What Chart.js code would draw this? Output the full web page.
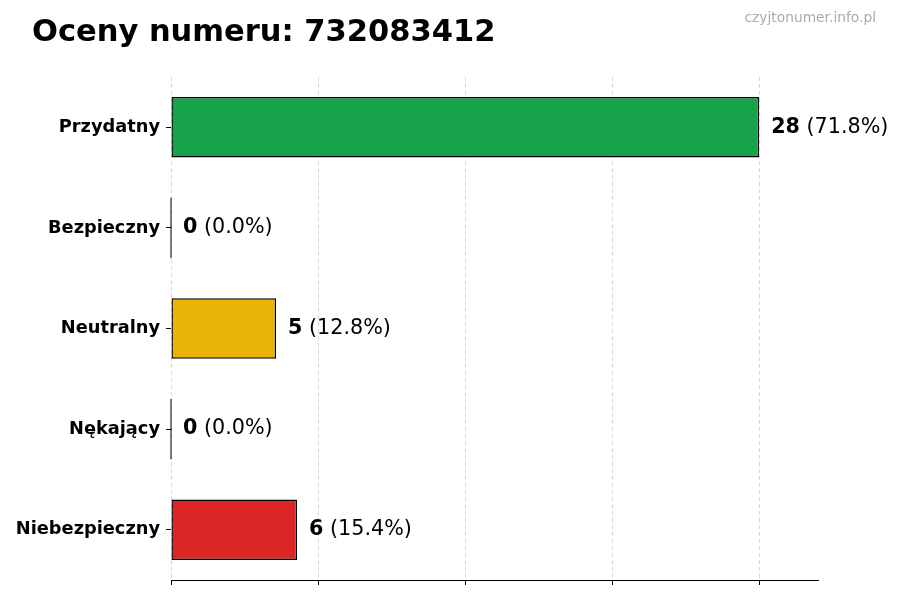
<!DOCTYPE html>
<html>
<head>
<meta charset="utf-8">
<script src="https://cdn.jsdelivr.net/npm/chart.js@4.4.1/dist/chart.umd.min.js"></script>
<style>
  html, body { margin: 0; padding: 0; background: #fff; }
</style>
</head>
<body>
<canvas id="myChart" width="900" height="600"></canvas>
<script>
// data
const categories = ["Przydatny", "Bezpieczny", "Neutralny", "Nękający", "Niebezpieczny"];
const votes = [28, 0, 5, 0, 6];
const barColors = ["#16a34a", "#16a34a", "#eab308", "#6b7280", "#dc2626"];
const xTicks = [0, 7, 14, 21, 28];
const chartTitle = "Oceny numeru: 732083412";
const siteName = "czyjtonumer.info.pl";

const FONT = "'DejaVu Sans', sans-serif";
const total = votes.reduce((a, b) => a + b, 0);

// title, watermark, value labels and the edge of empty bars
const extras = {
  id: "extras",
  afterDraw(chart) {
    const ctx = chart.ctx;
    const meta = chart.getDatasetMeta(0);
    ctx.save();

    ctx.fillStyle = "#000";
    ctx.textAlign = "left";
    ctx.textBaseline = "alphabetic";
    ctx.font = "bold 30.5px " + FONT;
    ctx.fillText(chartTitle, 32, 41);

    ctx.fillStyle = "#aaaaaa";
    ctx.textAlign = "right";
    ctx.font = "13.8px " + FONT;
    ctx.fillText(siteName, 876, 22);

    meta.data.forEach((bar, i) => {
      if (votes[i] === 0) {
        ctx.strokeStyle = "#000";
        ctx.lineWidth = 1;
        ctx.beginPath();
        ctx.moveTo(bar.base, bar.y - bar.height / 2);
        ctx.lineTo(bar.base, bar.y + bar.height / 2);
        ctx.stroke();
      }
      const num = String(votes[i]);
      const pct = " (" + (votes[i] / total * 100).toFixed(1) + "%)";
      let x = bar.x + 12;
      ctx.fillStyle = "#000";
      ctx.textAlign = "left";
      ctx.textBaseline = "middle";
      ctx.font = "bold 20.7px " + FONT;
      ctx.fillText(num, x, bar.y);
      x += ctx.measureText(num).width;
      ctx.font = "20.7px " + FONT;
      ctx.fillText(pct, x, bar.y);
    });
    ctx.restore();
  }
};

new Chart("myChart", {
  type: "bar",
  data: {
    labels: categories,
    datasets: [{
      data: votes,
      backgroundColor: barColors,
      borderColor: "#000",
      borderWidth: 1.4,
      borderSkipped: false,
      barPercentage: 0.6,
      categoryPercentage: 1
    }]
  },
  options: {
    indexAxis: "y",
    responsive: false,
    animation: false,
    layout: { padding: { top: 77, right: 82, bottom: 0, left: 0 } },
    plugins: {
      legend: { display: false },
      title: { display: false },
      tooltip: { enabled: false }
    },
    scales: {
      x: {
        min: 0,
        max: 30.8,
        z: 1,
        afterBuildTicks: s => { s.ticks = xTicks.map(v => ({ value: v })); },
        afterFit: s => { s.height = 20; },
        ticks: { display: false },
        grid: {
          color: "rgba(128,128,128,0.3)",
          lineWidth: 1,
          drawTicks: true,
          tickLength: 5,
          tickColor: "#000"
        },
        border: { display: true, color: "#000", width: 1, dash: [4, 3] }
      },
      y: {
        afterFit: s => { s.width = 171; },
        ticks: {
          color: "#000",
          padding: 6,
          font: { family: FONT, size: 17.8, weight: "bold" }
        },
        grid: {
          offset: false,
          drawOnChartArea: false,
          drawTicks: true,
          tickLength: 5,
          tickColor: "#000"
        },
        border: { display: false }
      }
    }
  },
  plugins: [extras]
});
</script>
</body>
</html>
